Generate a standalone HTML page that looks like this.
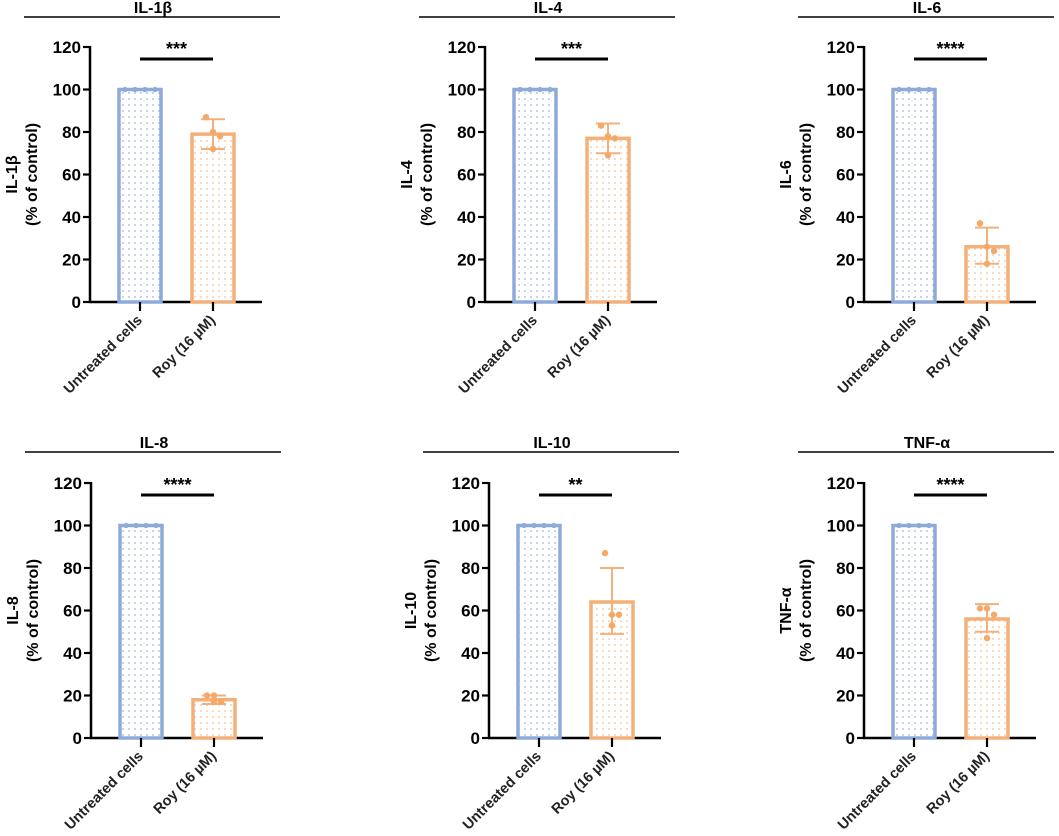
<!DOCTYPE html>
<html><head><meta charset="utf-8">
<style>
html,body{margin:0;padding:0;background:#fff;}
svg{display:block;font-family:"Liberation Sans",sans-serif;}
</style></head>
<body>
<svg id="fig" width="1059" height="836" viewBox="0 0 1059 836" xmlns="http://www.w3.org/2000/svg">
<defs>
<pattern id="dotBlue" width="6" height="6" patternUnits="userSpaceOnUse"><circle cx="3" cy="3" r="0.9" fill="#9fb6e0"/></pattern>
<pattern id="dotOrange" width="6" height="6" patternUnits="userSpaceOnUse"><circle cx="3" cy="3" r="0.9" fill="#f6c196"/></pattern>
</defs>
</svg>
<script>
// ---- data ----
const panelTitles = ["IL-1β","IL-4","IL-6","IL-8","IL-10","TNF-α"];
const categories = ["Untreated cells","Roy (16 µM)"];
const controlMeans = [100,100,100,100,100,100];
const treatedMeans = [79,77,26,18,64,56];
const treatedSdLow = [72,70,18,16,49,50];
const treatedSdHigh = [86,84,35,20,80,63];
const treatedPoints = [[87,80,78,72],[83,78,77,69],[37,26,24,18],[20,20,17,17],[87,58,58,53],[61,61,58,47]];
const significance = ["***","***","****","****","**","****"];
const yTicks = [0,20,40,60,80,100,120];

const axisXs = [90,485,864,91,489,864];
const rowTop = [47,483];
const rowBottom = [302,738];
const titleLineY = [17,452];

const NS = "http://www.w3.org/2000/svg";
const svg = document.getElementById("fig");
function mk(tag, attrs, parent, text){
  const e = document.createElementNS(NS, tag);
  for (const k in attrs) e.setAttribute(k, attrs[k]);
  if (text !== undefined) e.textContent = text;
  (parent||svg).appendChild(e);
  return e;
}

panelTitles.forEach((title, i) => {
  const row = i < 3 ? 0 : 1;
  const ax = axisXs[i];
  const y0 = rowBottom[row], y120 = rowTop[row];
  const yScale = v => y0 - (v/120)*(y0-y120);
  const xCenter = j => ax + 50 + j*73;
  const g = mk("g", {});
  
  

  const tl = mk("line", {x1: ax-66, x2: Math.min(ax+190,1058), y1: titleLineY[row], y2: titleLineY[row], stroke:"#000","stroke-width":1.6}, g);
  
  
  const tt = mk("text", {x: ax+63, y: titleLineY[row]-4, "text-anchor":"middle","font-size":16,"font-weight":"bold"}, g, title);
  
  

  const ya = mk("line", {x1: ax, x2: ax, y1: y120-1, y2: y0+1, stroke:"#000","stroke-width":2.5}, g);
  
  
  yTicks.forEach(t => {
    const y = yScale(t);
    mk("line", {x1: ax-7, x2: ax, y1: y, y2: y, stroke:"#000","stroke-width":2.2}, g);
    const tx = mk("text", {x: ax-9, y: y+6, "text-anchor":"end","font-size":17,"font-weight":"bold"}, g, String(t));
    
    
  });
  const xa = mk("line", {x1: ax-1, x2: ax+172, y1: y0, y2: y0, stroke:"#000","stroke-width":2.5}, g);
  
  

  const yMid = (y0+y120)/2;
  const yt = mk("text", {transform:`translate(${ax-68},${yMid}) rotate(-90)`, "text-anchor":"middle","font-size":16,"font-weight":"bold"}, g);
  
  
  mk("tspan", {x:0, y:-5}, yt, title);
  mk("tspan", {x:0, y:15}, yt, "(% of control)");

  const vals = [controlMeans[i], treatedMeans[i]];
  const colors = ["#8eaadb","#f4b07a"];
  const fills = ["url(#dotBlue)","url(#dotOrange)"];
  vals.forEach((v, j) => {
    const cx = xCenter(j);
    const b = mk("rect", {x: cx-21, y: yScale(v), width: 42, height: y0 - yScale(v), fill: fills[j], stroke: colors[j], "stroke-width":3.5}, g);
    
    
    mk("line", {x1: cx, x2: cx, y1: y0, y2: y0+9, stroke:"#000","stroke-width":2.2}, g);
    const lab = mk("text", {transform:`translate(${cx+3},${y0+19}) rotate(-45)`, "text-anchor":"end","font-size":14.5,"font-weight":"bold","fill":"#222"}, g, categories[j]);
    
    
  });
  for (let k=0;k<4;k++){
    mk("circle", {cx: xCenter(0)-15+k*10, cy: yScale(controlMeans[i]), r:2.6, fill:"#8eaadb"}, g);
  }
  const cx1 = xCenter(1);
  const eb = mk("line", {x1: cx1, x2: cx1, y1: yScale(treatedSdLow[i]), y2: yScale(treatedSdHigh[i]), stroke:"#f4b07a","stroke-width":2}, g);
  
  
  [treatedSdLow[i], treatedSdHigh[i]].forEach(v => {
    mk("line", {x1: cx1-12, x2: cx1+12, y1: yScale(v), y2: yScale(v), stroke:"#f4b07a","stroke-width":2}, g);
  });
  const offs = [-1,0,1,0];
  treatedPoints[i].forEach((p, k) => {
    const c = mk("circle", {cx: cx1 + offs[k]*7, cy: yScale(p), r:3.2, fill:"#f4a968"}, g);
    
    
  });
  const sb = mk("line", {x1: xCenter(0), x2: xCenter(1), y1: y120+12, y2: y120+12, stroke:"#000","stroke-width":3}, g);
  
  
  const st = mk("text", {x: (xCenter(0)+xCenter(1))/2, y: y120+8, "text-anchor":"middle","font-size":18,"font-weight":"bold"}, g, significance[i]);
  
  
});
</script>
</body></html>
